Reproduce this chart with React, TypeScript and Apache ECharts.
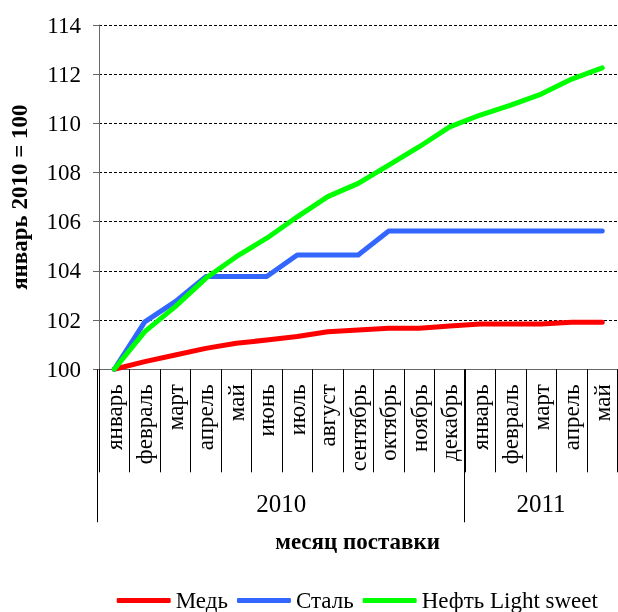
import React, { useEffect, useRef } from 'react';
import * as echarts from 'echarts';

const months = ['январь', 'февраль', 'март', 'апрель', 'май', 'июнь', 'июль', 'август', 'сентябрь', 'октябрь', 'ноябрь', 'декабрь', 'январь', 'февраль', 'март', 'апрель', 'май'];
const years = ['2010', '2011'];
const yearSpans = [12, 5];
const seriesNames = ['Медь', 'Сталь', 'Нефть Light sweet'];
const copper = [100, 100.31, 100.58, 100.85, 101.06, 101.19, 101.33, 101.53, 101.6, 101.67, 101.67, 101.76, 101.84, 101.84, 101.84, 101.91, 101.91];
const steel = [100, 101.93, 102.75, 103.77, 103.77, 103.77, 104.65, 104.65, 104.65, 105.62, 105.62, 105.62, 105.62, 105.62, 105.62, 105.62, 105.62];
const oil = [100, 101.53, 102.55, 103.7, 104.58, 105.33, 106.2, 107.02, 107.56, 108.3, 109.05, 109.86, 110.34, 110.74, 111.19, 111.8, 112.26];
const yMin = 100;
const yMax = 114;
const yStep = 2;
const colors = ['#FF0000', '#3366FF', '#00FF00'];

const FONT = '"Liberation Serif", "Times New Roman", serif';

export default function App() {
  const ref = useRef<HTMLDivElement>(null);
  useEffect(() => {
    if (!ref.current) return;
    const chart = echarts.init(ref.current, undefined, { renderer: 'svg' });

    const yearBounds: number[] = [0];
    const yearCenters: number[] = [];
    let acc = 0;
    yearSpans.forEach((s, i) => {
      yearCenters.push(acc + s / 2);
      acc += s;
      if (i < yearSpans.length - 1) yearBounds.push(acc);
    });

    const gridRect = { left: 97.7, right: 0.5, top: 25, bottom: 612 - 369.3 };

    chart.setOption({
      animation: false,
      textStyle: { fontFamily: FONT },
      grid: [
        { ...gridRect, containLabel: false },
        { ...gridRect, containLabel: false },
      ],
      legend: {
        data: seriesNames,
        left: 116.7,
        top: 589,
        padding: 0,
        icon: 'roundRect',
        itemWidth: 54,
        itemHeight: 5,
        itemGap: 9,
        textStyle: { fontFamily: FONT, fontSize: 23, color: '#000' },
      },
      xAxis: [
        {
          type: 'category',
          gridIndex: 0,
          data: months,
          boundaryGap: true,
          axisLine: { show: true, lineStyle: { color: '#666', width: 1 } },
          axisTick: { show: true, interval: 0, length: 103, lineStyle: { color: '#000', width: 1 } },
          axisLabel: {
            interval: 0,
            rotate: 90,
            margin: 15,
            fontFamily: FONT,
            fontSize: 23,
            color: '#000',
          },
          splitLine: { show: false },
        },
        {
          type: 'value',
          gridIndex: 1,
          min: 0,
          max: months.length,
          position: 'bottom',
          axisLine: { show: false },
          splitLine: { show: false },
          axisTick: {
            show: true,
            customValues: yearBounds,
            length: 153,
            lineStyle: { color: '#000', width: 1 },
          },
          axisLabel: {
            customValues: yearCenters,
            formatter: (v: number) => {
              const idx = yearCenters.findIndex((c) => Math.abs(c - v) < 1e-6);
              return idx >= 0 ? years[idx] : '';
            },
            margin: 122,
            fontFamily: FONT,
            fontSize: 25,
            color: '#000',
          },
          name: 'месяц поставки',
          nameLocation: 'middle',
          nameGap: 161,
          nameTextStyle: { fontFamily: FONT, fontSize: 23, fontWeight: 'bold', color: '#000' },
        },
      ],
      yAxis: [
        {
          type: 'value',
          gridIndex: 0,
          min: yMin,
          max: yMax,
          interval: yStep,
          axisLine: { show: true, lineStyle: { color: '#666', width: 1 } },
          axisTick: { show: true, length: 6, lineStyle: { color: '#666' } },
          axisLabel: { margin: 18, fontFamily: FONT, fontSize: 23, color: '#000' },
          splitLine: { show: true, lineStyle: { color: '#000', type: [3, 2], width: 1 } },
          name: 'январь 2010 = 100',
          nameLocation: 'middle',
          nameRotate: 90,
          nameGap: 68,
          nameTextStyle: { fontFamily: FONT, fontSize: 23, fontWeight: 'bold', color: '#000' },
        },
        {
          type: 'value',
          gridIndex: 1,
          min: yMin,
          max: yMax,
          show: false,
          splitLine: { show: false },
        },
      ],
      series: [copper, steel, oil].map((d, i) => ({
        name: seriesNames[i],
        type: 'line',
        xAxisIndex: 0,
        yAxisIndex: 0,
        data: d,
        symbol: 'none',
        smooth: false,
        color: colors[i],
        lineStyle: { width: 5, color: colors[i], cap: 'round', join: 'round' },
        z: 3 + i,
      })),
    });
    return () => chart.dispose();
  }, []);
  return <div ref={ref} style={{ position: 'fixed', left: 0, top: 0, width: 618, height: 612 }} />;
}
